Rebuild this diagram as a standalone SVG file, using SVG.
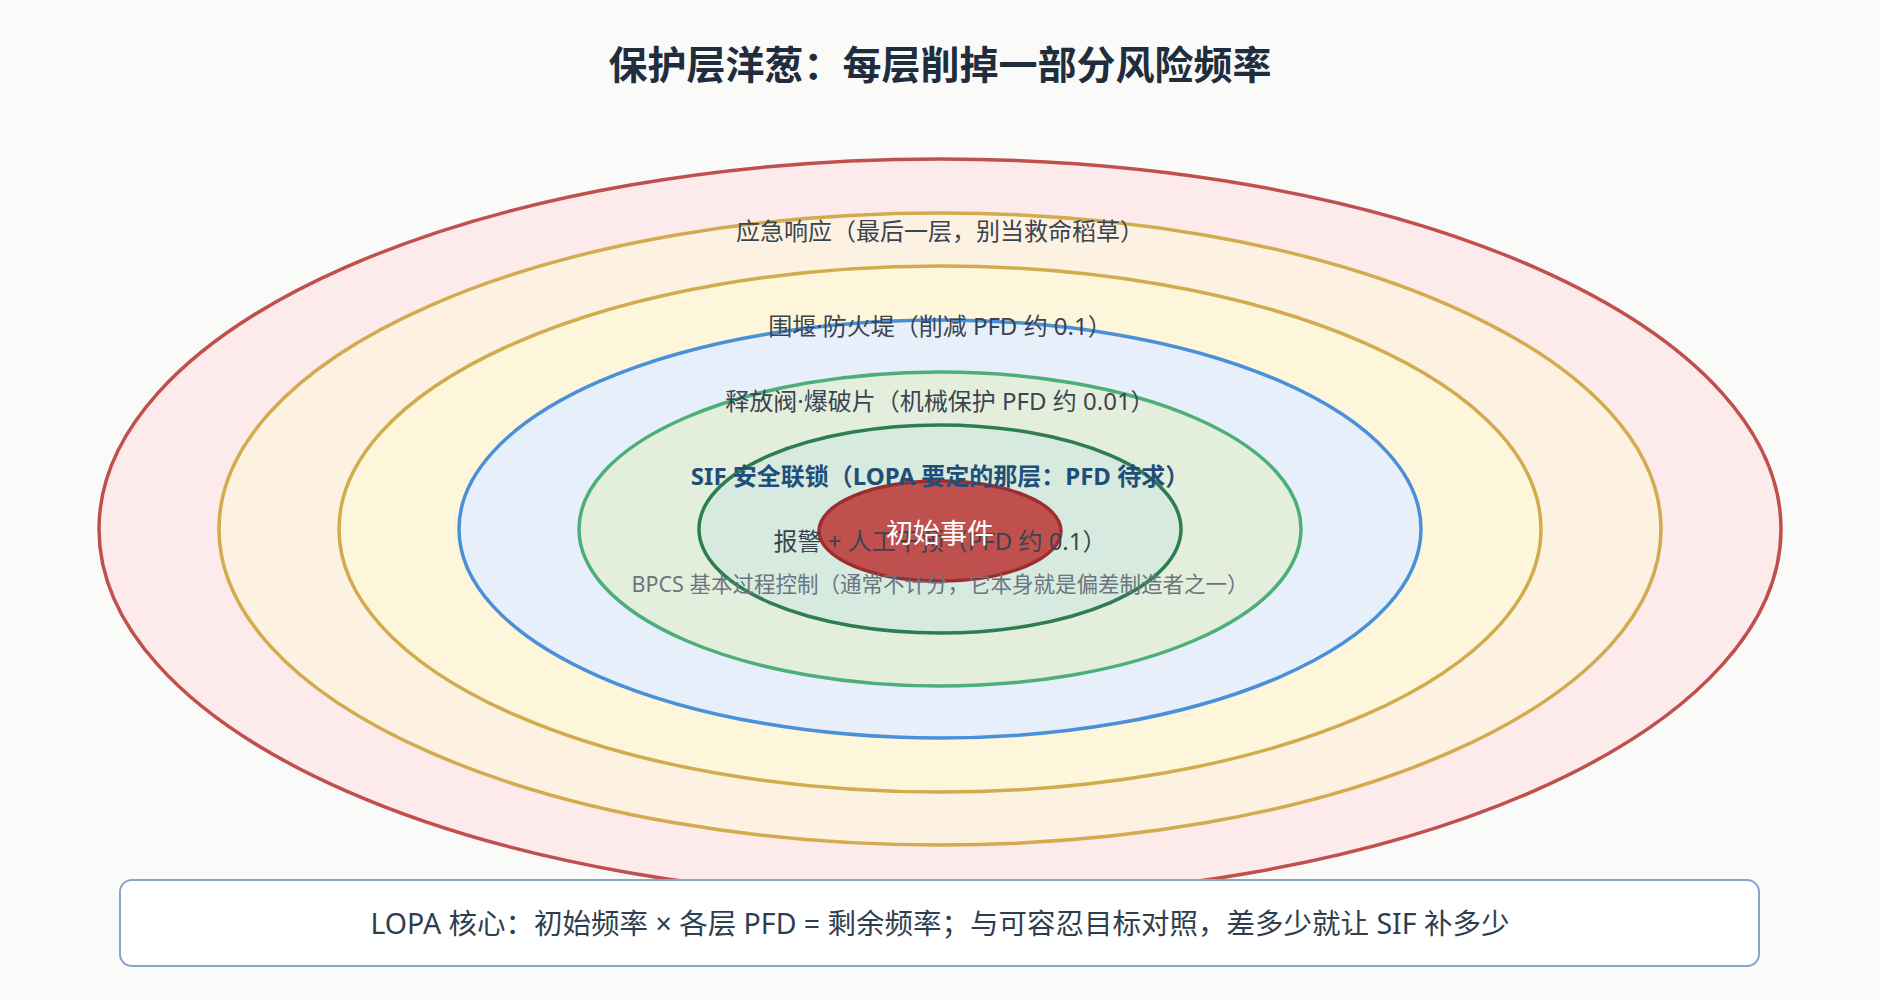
<svg xmlns="http://www.w3.org/2000/svg" width="1880" height="1000" viewBox="0 0 1880 1000">
<style>
text{font-family:"Noto Sans","Noto Sans CJK SC",sans-serif;text-anchor:middle}
.l{font-size:24px;fill:#3a4450}
.e{stroke-width:3.5}
</style>
<rect width="1880" height="1000" fill="#fafaf8"/>
<text x="940" y="79" style="font-size:39px;font-weight:bold;fill:#1f2d3d">保护层洋葱：每层削掉一部分风险频率</text>
<g id="layers">
<ellipse id="emergency" class="e" cx="940" cy="529" rx="841" ry="370" fill="#fdeaea" stroke="#c0504d"/>
<ellipse id="dike" class="e" cx="940" cy="529" rx="721" ry="316" fill="#fdf2e2" stroke="#d1ab4e"/>
<ellipse id="relief" class="e" cx="940" cy="529" rx="601" ry="263" fill="#fdf6da" stroke="#d1ab4e"/>
<ellipse id="sif" class="e" cx="940" cy="529" rx="481" ry="209" fill="#e7effa" stroke="#4a90d9"/>
<ellipse id="alarm" class="e" cx="940" cy="529" rx="361" ry="157" fill="#e3efdc" stroke="#4caf7a"/>
<ellipse id="bpcs" class="e" cx="940" cy="529" rx="241" ry="104" fill="#d6eadf" stroke="#2e7d50"/>
</g>
<g id="initiating">
<ellipse cx="940" cy="531" rx="121" ry="50" fill="#c0504d" stroke="#9b2f2f" stroke-width="3.5"/>
</g>
<g id="labels">
<text class="l" x="940" y="240">应急响应（最后一层，别当救命稻草）</text>
<text class="l" x="940" y="335">围堰·防火堤（削减 PFD 约 0.1）</text>
<text class="l" x="940" y="410">释放阀·爆破片（机械保护 PFD 约 0.01）</text>
<text x="940" y="485" style="font-size:24px;font-weight:bold;fill:#1f4e79">SIF 安全联锁（LOPA 要定的那层：PFD 待求）</text>
<text class="l" x="940" y="550">报警 + 人工干预（PFD 约 0.1）</text>
<text x="940" y="592" style="font-size:21.5px;fill:#6b7580">BPCS 基本过程控制（通常不计分，它本身就是偏差制造者之一）</text>
<text x="940" y="543" style="font-size:27px;fill:#fff">初始事件</text>
</g>
<g id="note">
<rect x="120" y="880" width="1639" height="86" rx="12" fill="#fff" stroke="#8aa4c8" stroke-width="2"/>
<text x="940" y="934" style="font-size:28.5px;fill:#2f3e4e">LOPA 核心：初始频率 × 各层 PFD = 剩余频率；与可容忍目标对照，差多少就让 SIF 补多少</text>
</g>
</svg>
